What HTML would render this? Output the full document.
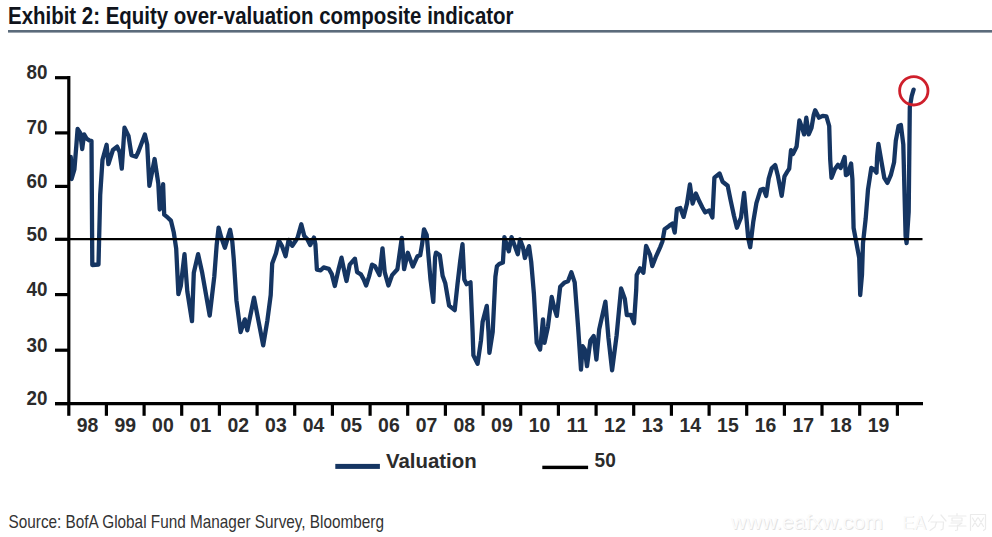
<!DOCTYPE html>
<html><head><meta charset="utf-8"><style>
html,body{margin:0;padding:0;background:#fff;}
body{width:992px;height:537px;overflow:hidden;position:relative;}
svg{position:absolute;left:0;top:0;}
</style></head><body>
<svg width="992" height="537" viewBox="0 0 992 537">
<rect width="992" height="537" fill="#fff"/>
<text x="8" y="23.7" font-family="Liberation Sans" font-weight="bold" font-size="24.2" fill="#10141c" textLength="505.5" lengthAdjust="spacingAndGlyphs">Exhibit 2: Equity over-valuation composite indicator</text>
<rect x="8" y="30" width="984" height="2.6" fill="#5b6b7b"/>
<polyline points="70.8,157 71.6,179 74.4,169.5 76.3,146 77.6,129 80.2,133 82.2,149 84.1,134.3 86.4,138.4 89.5,140.6 91.5,140.8 92.3,265 98.5,264.5 100.2,195 102.5,159.7 106.6,144.8 108.4,164.2 112.9,150 117.1,146.6 119.6,152.2 121.8,168.6 124.5,127.7 128.5,135.9 131.5,155.2 136,156.7 138.2,152.2 144.9,134.4 147.2,144.8 149.4,185.8 154.6,159 158.3,183.5 159.7,209.5 163.1,184.2 164.2,214.7 167.9,217.7 170.9,220.6 173.8,232.6 176.2,248.6 178.4,294.2 180.8,285.8 184.5,254.2 187.3,291.4 192,321.2 193.8,272.8 198.1,254.2 202.2,272.8 209.7,315.6 214.3,276.5 216.7,244.7 218.6,227.6 221.2,237.2 224.9,247.7 230.1,229.8 232.3,241.7 233.8,259.6 236.4,300.2 240.6,332 244.8,319.4 247.3,330.3 254,297.7 259,323.6 263.2,345.4 267.4,320.3 270.7,295.1 272.2,263.6 276,253.2 278.9,240.5 281.9,245.8 285.6,256.2 288.6,239.8 292.3,245.8 295.3,241.3 297.6,237.6 301.3,224.2 304.3,236.1 307.2,239 310.2,245 314,237.6 315.4,244.3 316.9,269.6 320.7,270.3 323.6,267.4 328.8,268.8 331.8,274.1 334.8,286 338.5,269.6 341.5,257.7 345.2,275.5 346.5,281 349.7,264.7 354.9,258.7 357.1,272.1 360.9,274.4 363.8,279.6 366.1,285.5 369,276.6 372,264.7 375,266.2 379.5,275.1 382.5,248.3 384.7,272.1 388.4,285.5 392.1,275.1 397.4,269.2 401.8,237.9 404.1,269.2 407.8,252.8 412.8,266.5 417.4,256.3 420.2,255.3 422.1,244.2 424,229.3 426.7,234.9 428.6,257.2 430.5,279.5 433.3,301.9 435.1,257.2 436,252.6 439.8,255.3 442.6,275.8 445.3,283.3 449.1,305.6 454.7,310.2 457.4,285.1 460.2,260.9 462.5,244.2 464.3,279.5 466.7,284.2 470.5,282.3 472.6,331.9 473.4,355.4 477.6,363.8 481,340.3 482.6,321.9 486.8,305.9 488.5,331.9 489.4,352.9 492.7,331.9 495.4,276.6 496.9,266.2 499.2,264 502.9,262.5 504.4,237.1 507.3,246.8 508.8,251.3 511.5,237.1 514.8,246.1 517.8,254.3 520,239.4 523,247.6 524.9,258 529,246.1 531.2,261.7 533.9,293.5 536.7,342.8 540.1,349.5 543,319.3 544.5,342.8 547.9,327.1 551.7,296.9 554.6,309.2 556.8,315.9 560.2,286.8 564.7,282.4 568,281.2 571.4,272.3 574.7,282.4 578.1,327.1 581,369.6 582.6,346.1 584.8,349.5 587,366.2 590.4,340.5 593.7,336 596.4,359.5 599.2,329.4 605.4,301.7 608.4,337.5 612.1,370.3 616.6,335.5 621.1,288.4 624.8,298.7 626.8,315 630.9,315 634,323.2 636.2,290 636.7,275 640.1,268.3 643.4,272.8 646.1,246 650.1,254.9 652.3,266.1 655.7,257.2 660.2,247.1 662.4,241.5 664.6,229.2 669.1,225.9 672.5,223.6 674.7,232.6 676.9,209.1 680.3,208 683.6,216.9 687,203.5 689.9,184.5 692.6,203.5 695.9,193.5 699.3,201.3 702.4,207.5 705.2,212.4 709.3,210.4 712.4,217.5 714.4,177.6 719.6,173.5 722.6,181.7 727.7,185.8 730.8,201.2 733.9,215.5 736.9,227.7 741,217.5 744.1,193 746.2,215.5 748.2,238 750.2,247.2 753.3,221.6 756.4,203.2 760.5,189.9 763.5,188.9 766.2,196 768.7,178.6 771.7,168.4 775.2,165.1 778,176.3 781.7,195.8 784.5,176.3 787.3,171.6 789.2,168.8 791,150.2 792.9,154 794.8,150.2 796.6,146.5 799.4,120.5 802.2,127.9 804.1,134.4 806.3,117.7 808.7,134.4 811.5,127.9 813.7,114.9 815.2,110.2 819,117.7 822.7,115.8 826.4,116.4 829.2,126 830.2,159.6 831.5,177.8 834.8,169.3 838,164.8 840.6,168 844.6,156.9 845.9,175.2 847.8,173.9 851.1,163.5 852.4,179.1 853.6,228 856.4,242.9 859.2,257.8 860.2,295 862,274.5 863,242.9 865.7,218.6 868,189.5 871.3,168 873.9,169.3 876.5,172.6 877.1,157 878.4,143.9 881.1,159.6 884.3,177.8 887.4,183 890.8,175.2 894.1,162.2 895.8,140.8 898.6,125.9 900.9,125 903.3,144.6 905.6,236 906.6,243.2 908.7,211.5 909.8,107.3 911.7,96.1 913.6,89.6" fill="none" stroke="#153562" stroke-width="4.3" stroke-linejoin="round" stroke-linecap="round"/>
<line x1="68" y1="239.2" x2="922.5" y2="239.2" stroke="#000" stroke-width="2.3"/>
<g stroke="#000" stroke-width="3.2" fill="none">
<line x1="68.8" y1="76.1" x2="68.8" y2="405"/>
<line x1="55" y1="403.6" x2="923" y2="403.6"/>
<line x1="55" y1="77.7" x2="70" y2="77.7"/><line x1="55" y1="132.9" x2="70" y2="132.9"/><line x1="55" y1="186.4" x2="70" y2="186.4"/><line x1="55" y1="239.3" x2="70" y2="239.3"/><line x1="55" y1="294.6" x2="70" y2="294.6"/><line x1="55" y1="350.2" x2="70" y2="350.2"/><line x1="55" y1="403.6" x2="70" y2="403.6"/>
<line x1="68.8" y1="403" x2="68.8" y2="415.8"/><line x1="106.4" y1="403" x2="106.4" y2="415.8"/><line x1="144.1" y1="403" x2="144.1" y2="415.8"/><line x1="181.7" y1="403" x2="181.7" y2="415.8"/><line x1="219.4" y1="403" x2="219.4" y2="415.8"/><line x1="257.1" y1="403" x2="257.1" y2="415.8"/><line x1="294.7" y1="403" x2="294.7" y2="415.8"/><line x1="332.4" y1="403" x2="332.4" y2="415.8"/><line x1="370.1" y1="403" x2="370.1" y2="415.8"/><line x1="407.7" y1="403" x2="407.7" y2="415.8"/><line x1="445.4" y1="403" x2="445.4" y2="415.8"/><line x1="483.1" y1="403" x2="483.1" y2="415.8"/><line x1="520.7" y1="403" x2="520.7" y2="415.8"/><line x1="558.4" y1="403" x2="558.4" y2="415.8"/><line x1="596.1" y1="403" x2="596.1" y2="415.8"/><line x1="633.7" y1="403" x2="633.7" y2="415.8"/><line x1="671.4" y1="403" x2="671.4" y2="415.8"/><line x1="709.1" y1="403" x2="709.1" y2="415.8"/><line x1="746.7" y1="403" x2="746.7" y2="415.8"/><line x1="784.4" y1="403" x2="784.4" y2="415.8"/><line x1="822.0" y1="403" x2="822.0" y2="415.8"/><line x1="859.7" y1="403" x2="859.7" y2="415.8"/><line x1="897.4" y1="403" x2="897.4" y2="415.8"/>
</g>
<g font-family="Liberation Sans" font-weight="bold" font-size="18.8" fill="#2b2b2b">
<text x="26.6" y="79.0" font-size="20.2" textLength="20.9" lengthAdjust="spacingAndGlyphs">80</text><text x="26.6" y="134.20000000000002" font-size="20.2" textLength="20.9" lengthAdjust="spacingAndGlyphs">70</text><text x="26.6" y="187.70000000000002" font-size="20.2" textLength="20.9" lengthAdjust="spacingAndGlyphs">60</text><text x="26.6" y="240.60000000000002" font-size="20.2" textLength="20.9" lengthAdjust="spacingAndGlyphs">50</text><text x="26.6" y="295.90000000000003" font-size="20.2" textLength="20.9" lengthAdjust="spacingAndGlyphs">40</text><text x="26.6" y="351.5" font-size="20.2" textLength="20.9" lengthAdjust="spacingAndGlyphs">30</text><text x="26.6" y="404.90000000000003" font-size="20.2" textLength="20.9" lengthAdjust="spacingAndGlyphs">20</text>
<text x="76.8" y="431.8" font-size="20.7" textLength="21.6" lengthAdjust="spacingAndGlyphs">98</text><text x="114.4" y="431.8" font-size="20.7" textLength="21.6" lengthAdjust="spacingAndGlyphs">99</text><text x="152.1" y="431.8" font-size="20.7" textLength="21.6" lengthAdjust="spacingAndGlyphs">00</text><text x="189.8" y="431.8" font-size="20.7" textLength="21.6" lengthAdjust="spacingAndGlyphs">01</text><text x="227.4" y="431.8" font-size="20.7" textLength="21.6" lengthAdjust="spacingAndGlyphs">02</text><text x="265.1" y="431.8" font-size="20.7" textLength="21.6" lengthAdjust="spacingAndGlyphs">03</text><text x="302.8" y="431.8" font-size="20.7" textLength="21.6" lengthAdjust="spacingAndGlyphs">04</text><text x="340.4" y="431.8" font-size="20.7" textLength="21.6" lengthAdjust="spacingAndGlyphs">05</text><text x="378.1" y="431.8" font-size="20.7" textLength="21.6" lengthAdjust="spacingAndGlyphs">06</text><text x="415.8" y="431.8" font-size="20.7" textLength="21.6" lengthAdjust="spacingAndGlyphs">07</text><text x="453.4" y="431.8" font-size="20.7" textLength="21.6" lengthAdjust="spacingAndGlyphs">08</text><text x="491.1" y="431.8" font-size="20.7" textLength="21.6" lengthAdjust="spacingAndGlyphs">09</text><text x="528.8" y="431.8" font-size="20.7" textLength="21.6" lengthAdjust="spacingAndGlyphs">10</text><text x="566.4" y="431.8" font-size="20.7" textLength="21.6" lengthAdjust="spacingAndGlyphs">11</text><text x="604.1" y="431.8" font-size="20.7" textLength="21.6" lengthAdjust="spacingAndGlyphs">12</text><text x="641.8" y="431.8" font-size="20.7" textLength="21.6" lengthAdjust="spacingAndGlyphs">13</text><text x="679.4" y="431.8" font-size="20.7" textLength="21.6" lengthAdjust="spacingAndGlyphs">14</text><text x="717.1" y="431.8" font-size="20.7" textLength="21.6" lengthAdjust="spacingAndGlyphs">15</text><text x="754.8" y="431.8" font-size="20.7" textLength="21.6" lengthAdjust="spacingAndGlyphs">16</text><text x="792.4" y="431.8" font-size="20.7" textLength="21.6" lengthAdjust="spacingAndGlyphs">17</text><text x="830.1" y="431.8" font-size="20.7" textLength="21.6" lengthAdjust="spacingAndGlyphs">18</text><text x="867.7" y="431.8" font-size="20.7" textLength="21.6" lengthAdjust="spacingAndGlyphs">19</text>
</g>
<circle cx="913.8" cy="90.8" r="14.2" fill="none" stroke="#cf1f2b" stroke-width="2.8"/>
<rect x="335.3" y="463.9" width="44.6" height="5" fill="#153562"/>
<rect x="542.3" y="465.7" width="45.8" height="3.4" fill="#000"/>
<g font-family="Liberation Sans" font-weight="bold" font-size="20.4" fill="#2b2b2b">
<text x="386" y="467.7">Valuation</text>
<text x="594.6" y="467.2" font-size="20" textLength="21.2" lengthAdjust="spacingAndGlyphs">50</text>
</g>
<text x="8.5" y="527.6" font-family="Liberation Sans" font-size="18.2" fill="#333" textLength="375.5" lengthAdjust="spacingAndGlyphs">Source: BofA Global Fund Manager Survey, Bloomberg</text>
<g font-family="Liberation Sans" font-size="21">
<text x="731.8" y="529.8" fill="#e2e2e2" textLength="152" lengthAdjust="spacingAndGlyphs">www.eafxw.com</text>
<text x="731" y="529" fill="#fbfbfb" textLength="152" lengthAdjust="spacingAndGlyphs">www.eafxw.com</text>
<text x="903.2" y="530.3" fill="#e2e2e2" font-size="20.5" textLength="23.5" lengthAdjust="spacingAndGlyphs">EA</text>
<text x="902.4" y="529.5" fill="#fbfbfb" font-size="20.5" textLength="23.5" lengthAdjust="spacingAndGlyphs">EA</text>
</g>
<g fill="none" stroke="#ebebeb" stroke-width="1.2" stroke-linecap="round" stroke-linejoin="round">
<path d="M933,515 L928.5,521.5 M941,515 L946,521 M931,522 L943.5,522 L943,529 L941,530 M936.5,522 L935,527 L930,530.5"/>
<path d="M957,513.5 L957,515 M948.5,516 L966,516 M952,518 L962,518 L962,521 L952,521 Z M951,523 L962,523 L958,525.5 M949,526 L966,526 M957.5,525 L957.5,530 L955.5,530.5"/>
<path d="M970.5,530.5 L970.5,514.5 L985.5,514.5 L985.5,529 L983.5,530.5 M972.5,518 L977.5,526.5 M977.5,518 L972.5,526.5 M978.5,518 L983.5,526.5 M983.5,518 L978.5,526.5"/>
</g>
</svg>
</body></html>
